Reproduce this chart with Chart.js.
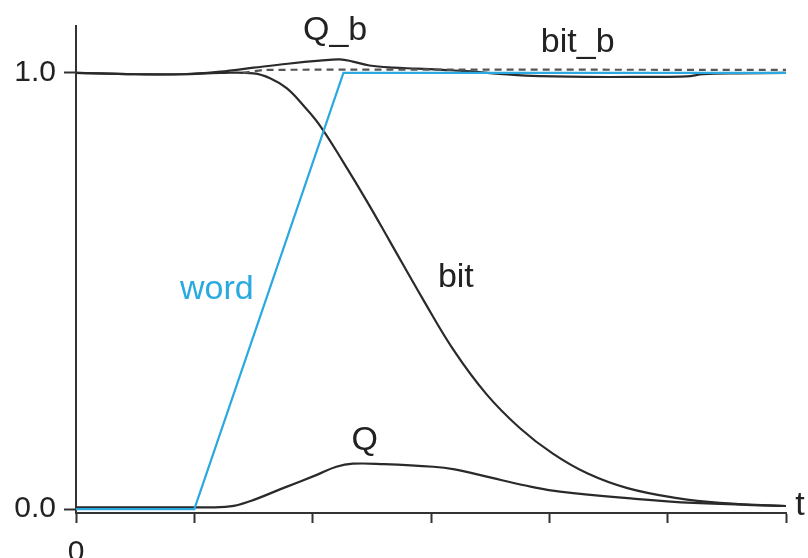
<!DOCTYPE html>
<html>
<head>
<meta charset="utf-8">
<script src="https://cdn.jsdelivr.net/npm/chart.js@4.4.1/dist/chart.umd.min.js"></script>
<style>
  html, body { margin: 0; padding: 0; background: #fff; }
  #wrap { width: 808px; height: 558px; }
</style>
</head>
<body>
<div id="wrap"><canvas id="plot" width="808" height="558"></canvas></div>
<script>
// time samples and levels for each trace
const wordT = [0, 1.0, 2.26, 6.0];
const wordV = [0, 0, 1.0, 1.0];

const bitT = [0, 0.5, 0.9, 1.22, 1.5, 1.64, 1.78, 1.92, 2.06, 2.26, 2.46, 2.65, 2.93, 3.19, 3.47, 3.75, 4.03, 4.32, 4.66, 5.08, 5.44, 6.0];
const bitV = [1.0, 0.997, 0.997, 1.0, 0.999, 0.988, 0.965, 0.926, 0.88, 0.795, 0.705, 0.615, 0.482, 0.365, 0.263, 0.186, 0.127, 0.082, 0.048, 0.025, 0.014, 0.007];

const qbT = [0, 0.5, 0.9, 1.22, 1.5, 1.79, 2.06, 2.23, 2.34, 2.48, 2.68, 2.88, 3.1, 3.3, 3.58, 3.8, 4.3, 4.8, 5.16, 5.3, 5.6, 6.0];
const qbV = [1.0, 0.997, 0.997, 1.003, 1.012, 1.021, 1.028, 1.031, 1.026, 1.017, 1.012, 1.01, 1.007, 1.004, 0.998, 0.994, 0.991, 0.991, 0.992, 0.997, 0.999, 1.0];

const bitbT = [1.41, 1.6, 6.0];
const bitbV = [1.0, 1.007, 1.007];

const qT = [0, 1.0, 1.3, 1.47, 1.75, 2.04, 2.2, 2.34, 2.6, 3.02, 3.2, 3.4, 3.6, 3.85, 4.09, 4.66, 5.22, 6.0];
const qV = [0.004, 0.004, 0.006, 0.018, 0.048, 0.079, 0.097, 0.104, 0.103, 0.097, 0.091, 0.079, 0.066, 0.051, 0.04, 0.025, 0.014, 0.007];

const yTicks = [0, 1];
const xTicks = [0, 1, 2, 3, 4, 5, 6];
const xTickLabels = ['0', '', '', '', '', '', ''];

// curve names written next to the traces, in data coordinates
const tags = [
  { text: 'Q_b', x: 2.19, y: 1.096, color: '#222' },
  { text: 'bit_b', x: 4.24, y: 1.069, color: '#222' },
  { text: 'bit', x: 3.21, y: 0.53, color: '#222' },
  { text: 'word', x: 1.19, y: 0.503, color: '#29a9e0' },
  { text: 'Q', x: 2.44, y: 0.156, color: '#222' },
];

const BLUE = '#29a9e0';
const INK = '#2a2a2a';
const FONT = '"Liberation Sans", Arial, Helvetica, sans-serif';

function pairs(t, v) {
  return t.map((x, i) => ({ x: x, y: v[i] }));
}

const tagPlugin = {
  id: 'tags',
  afterDraw(chart) {
    const ctx = chart.ctx;
    const xs = chart.scales.x;
    const ys = chart.scales.y;
    ctx.save();
    ctx.font = '34px ' + FONT;
    ctx.textAlign = 'center';
    ctx.textBaseline = 'middle';
    tags.forEach(tg => {
      ctx.fillStyle = tg.color;
      ctx.fillText(tg.text, xs.getPixelForValue(tg.x), ys.getPixelForValue(tg.y));
    });
    // axis name at the end of the time axis
    ctx.fillStyle = '#222';
    ctx.fillText('t', xs.right + 14, ys.getPixelForValue(0) - 3);
    ctx.restore();
  }
};

const line = (label, t, v, color, extra) => Object.assign({
  label: label,
  data: pairs(t, v),
  borderColor: color,
  backgroundColor: color,
  borderWidth: 2.2,
  pointRadius: 0,
  fill: false,
  tension: 0.4,
}, extra || {});

new Chart(document.getElementById('plot').getContext('2d'), {
  type: 'line',
  data: {
    datasets: [
      line('bit_b', bitbT, bitbV, '#555', { borderDash: [7, 5], borderWidth: 2.2, tension: 0.2 }),
      line('word', wordT, wordV, BLUE, { tension: 0 }),
      line('Q_b', qbT, qbV, INK),
      line('bit', bitT, bitV, INK),
      line('Q', qT, qV, INK),
    ]
  },
  options: {
    responsive: false,
    animation: false,
    layout: { padding: { top: 20, right: 22, left: 0, bottom: 0 } },
    plugins: {
      legend: { display: false },
      tooltip: { enabled: false },
    },
    scales: {
      x: {
        type: 'linear',
        min: 0,
        max: 6,
        afterBuildTicks(scale) { scale.ticks = xTicks.map(v => ({ value: v })); },
        afterFit(scale) { scale.height = 45; },
        ticks: {
          autoSkip: false,
          maxRotation: 0,
          padding: 12,
          color: '#222',
          font: { family: FONT, size: 30 },
          callback: (v, i) => xTickLabels[i],
        },
        grid: {
          drawOnChartArea: false,
          drawTicks: true,
          tickLength: 10,
          tickWidth: 2,
          tickColor: '#333',
        },
        border: { display: true, color: '#333', width: 2 },
      },
      y: {
        type: 'linear',
        min: -0.009,
        max: 1.1076,
        afterBuildTicks(scale) { scale.ticks = yTicks.map(v => ({ value: v })); },
        afterFit(scale) { scale.width = 76; },
        ticks: {
          padding: 8,
          color: '#222',
          font: { family: FONT, size: 30 },
          callback: v => v.toFixed(1),
        },
        grid: {
          drawOnChartArea: false,
          drawTicks: true,
          tickLength: 12,
          tickWidth: 2,
          tickColor: '#333',
        },
        border: { display: true, color: '#333', width: 2 },
      }
    }
  },
  plugins: [tagPlugin]
});
</script>
</body>
</html>
